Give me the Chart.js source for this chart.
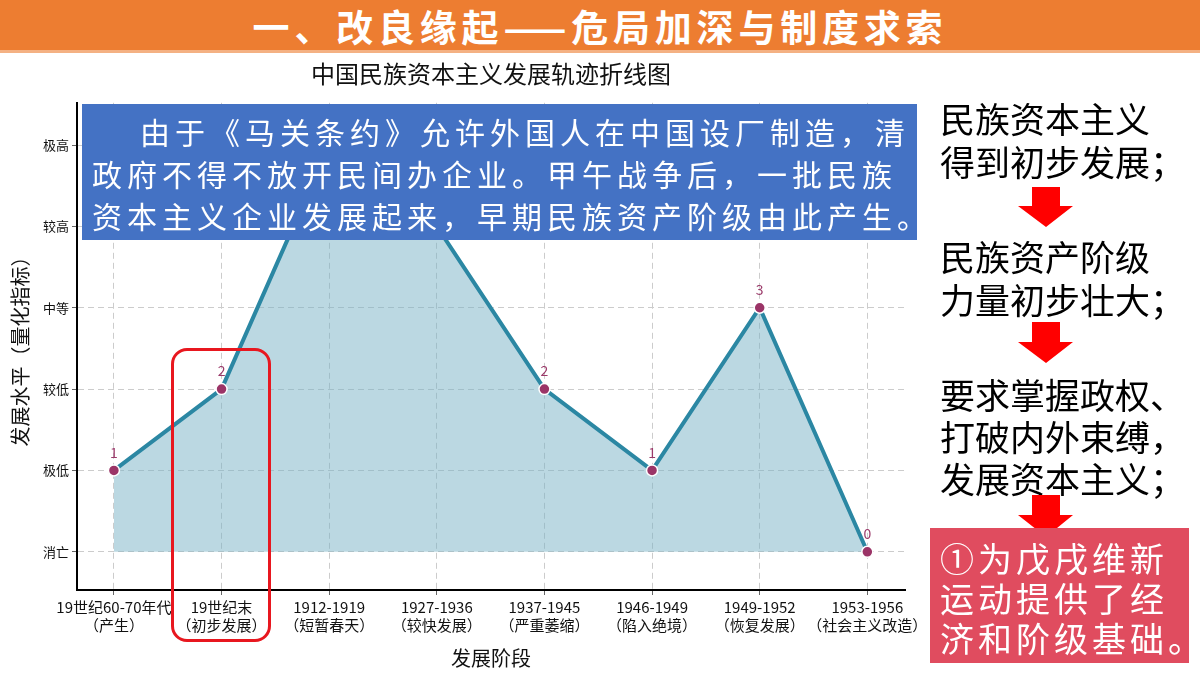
<!DOCTYPE html>
<html>
  <head>
    <meta charset="utf-8">
    <title>中国民族资本主义发展轨迹折线图</title>
    <script src="https://cdn.jsdelivr.net/npm/chart.js"></script>
    <style>
      body { margin: 0; background: #fff; font-family: "Noto Sans CJK SC", sans-serif; }
      #stage { position: relative; width: 1200px; height: 675px; overflow: hidden; }
      #chart { position: absolute; left: 0; top: 0; }
      .box { position: absolute; white-space: nowrap; }
      #header { left: 0; top: 0; width: 1200px; height: 50px; background: #ed7d31; border-bottom: 3px solid #f4b183;
        color: #fff; font-weight: bold; font-size: 37px; letter-spacing: 4.8px; text-align: center; line-height: 52px; box-sizing: content-box; }
      #note { left: 82px; top: 104px; width: 835px; height: 136px; background: #4472c4; color: #fff;
        font-size: 30px; letter-spacing: 5px; line-height: 42px; padding: 6px 0 0 10px; box-sizing: border-box; }
      #note .first { padding-left: 48px; }
      #mark { left: 171px; top: 348px; width: 100px; height: 294px; border: 3px solid #e8171f; border-radius: 16px; box-sizing: border-box; }
      .side { left: 940px; color: #000; font-size: 35px; line-height: 43px; }
      #result { left: 930px; top: 528px; width: 259px; height: 135px; background: #e04c5f; color: #fff;
        font-size: 34px; letter-spacing: 4px; line-height: 40px; padding: 10px 0 0 10px; box-sizing: border-box; }
    </style>
  </head>
  <body>
    <div id="stage">
      <canvas id="chart" width="1200" height="675"></canvas>
      <div class="box" id="header">一、改良缘起——危局加深与制度求索</div>
      <div class="box" id="note"><div class="first">由于《马关条约》允许外国人在中国设厂制造，清</div><div>政府不得不放开民间办企业。甲午战争后，一批民族</div><div>资本主义企业发展起来，早期民族资产阶级由此产生。</div></div>
      <div class="box" id="mark"></div>
      <div class="box side" style="top:96px">民族资本主义<br>得到初步发展；</div>
      <div class="box side" style="top:234px">民族资产阶级<br>力量初步壮大；</div>
      <div class="box side" style="top:373px; line-height:42px">要求掌握政权、<br>打破内外束缚，<br>发展资本主义；</div>
      <svg class="box" width="1200" height="675" style="left:0;top:0">
        <polygon fill="#ff0000" points="1032,187 1060,187 1060,206 1073,206 1046,227 1018,206 1032,206"/>
        <polygon fill="#ff0000" points="1032,322 1060,322 1060,342 1073,342 1046,363 1018,342 1032,342"/>
        <polygon fill="#ff0000" points="1032,495 1060,495 1060,515 1073,515 1046,537 1018,515 1032,515"/>
      </svg>
      <div class="box" id="result">①为戊戌维新<br>运动提供了经<br>济和阶级基础。</div>
    </div>
    <script>
      const stageNames = ["19世纪60-70年代", "19世纪末", "1912-1919", "1927-1936", "1937-1945", "1946-1949", "1949-1952", "1953-1956"];
      const stageNotes = ["（产生）", "（初步发展）", "（短暂春天）", "（较快发展）", "（严重萎缩）", "（陷入绝境）", "（恢复发展）", "（社会主义改造）"];
      const levels = [1, 2, 5, 4, 2, 1, 3, 0];
      const levelNames = ["消亡", "极低", "较低", "中等", "较高", "极高"];

      const font = '"Noto Sans CJK SC", sans-serif';

      // numbers above each point
      const pointLabels = {
        id: "pointLabels",
        afterDatasetsDraw(chart) {
          const ctx = chart.ctx;
          const meta = chart.getDatasetMeta(0);
          ctx.save();
          ctx.fillStyle = "#9b3a6a";
          ctx.font = "14px " + font;
          ctx.textAlign = "center";
          ctx.textBaseline = "bottom";
          meta.data.forEach((pt, i) => {
            ctx.fillText(String(levels[i]), pt.x, pt.y - 11);
          });
          ctx.restore();
        },
      };

      const ctx = document.getElementById("chart").getContext("2d");
      new Chart(ctx, {
        type: "line",
        data: {
          datasets: [
            {
              data: levels.map((v, i) => ({ x: i, y: v })),
              borderColor: "#2b87a3",
              borderWidth: 4,
              backgroundColor: "rgba(120, 178, 197, 0.5)",
              fill: "origin",
              pointRadius: 5.5,
              pointBackgroundColor: "#9b3467",
              pointBorderColor: "#ffffff",
              pointBorderWidth: 1.5,
              tension: 0,
              clip: false,
            },
          ],
        },
        options: {
          responsive: false,
          animation: false,
          layout: { padding: { top: 59, right: 295, bottom: 5, left: 0 } },
          plugins: {
            legend: { display: false },
            tooltip: { enabled: false },
            title: {
              display: true,
              text: "中国民族资本主义发展轨迹折线图",
              fullSize: false,
              color: "#111",
              font: { family: font, size: 24, weight: "normal" },
              padding: { top: 0, bottom: 15 },
            },
          },
          scales: {
            x: {
              type: "linear",
              min: -0.343,
              max: 7.35,
              afterBuildTicks: (s) => {
                s.ticks = stageNames.map((_, i) => ({ value: i }));
              },
              afterFit: (s) => {
                s.height = 80;
              },
              ticks: {
                callback: (v) => [stageNames[v], stageNotes[v]],
                autoSkip: false,
                maxRotation: 0,
                padding: 3,
                color: "#111",
                font: { family: font, size: 15, lineHeight: 1.2 },
              },
              grid: { color: "#cccccc", tickColor: "#666", tickLength: 5, tickBorderDash: [] },
              border: { color: "#000", width: 2, dash: [6, 4] },
              title: {
                display: true,
                text: "发展阶段",
                color: "#111",
                font: { family: font, size: 20 },
                padding: { top: 0, bottom: 0 },
              },
            },
            y: {
              type: "linear",
              min: -0.47,
              max: 5.52,
              afterBuildTicks: (s) => {
                s.ticks = levelNames.map((_, i) => ({ value: i }));
              },
              afterFit: (s) => {
                s.width = 77;
              },
              ticks: {
                callback: (v) => levelNames[v],
                padding: 3,
                color: "#111",
                font: { family: font, size: 13 },
              },
              grid: { color: "#cccccc", tickColor: "#666", tickLength: 5, tickBorderDash: [] },
              border: { color: "#000", width: 2, dash: [6, 4] },
              title: {
                display: true,
                text: "发展水平（量化指标）",
                color: "#111",
                font: { family: font, size: 20 },
                padding: { top: 8, bottom: 0 },
              },
            },
          },
        },
        plugins: [pointLabels],
      });
    </script>
  </body>
</html>
